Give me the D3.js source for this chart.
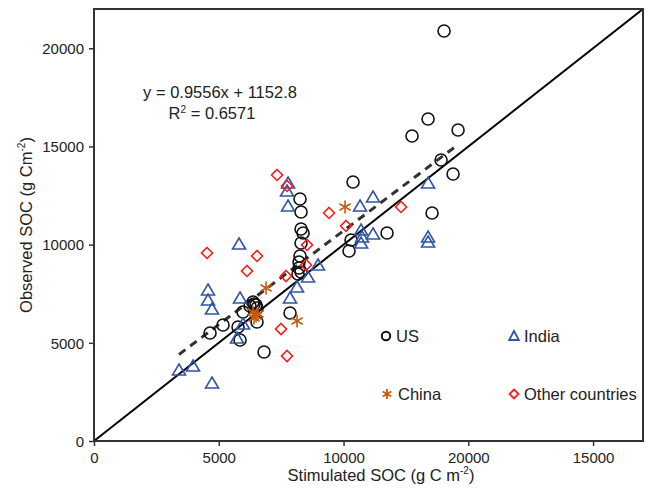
<!DOCTYPE html>
<html>
<head>
<meta charset="utf-8">
<script src="https://cdn.jsdelivr.net/npm/d3@7"></script>
<style>
  html, body { margin: 0; padding: 0; background: #fff; }
  svg { display: block; font-family: "Liberation Sans", Arial, sans-serif; }
</style>
</head>
<body>
<svg id="chart" width="649" height="491"></svg>
<script>
// Simulated vs observed soil organic carbon, by country group: [simulated, observed]
const usPoints = [
  [14028, 20881], [13387, 16399], [12745, 15534], [14589, 15839], [13908, 14311],
  [14389, 13598], [13547, 11612], [11743, 10593], [10381, 13191], [10301, 10237],
  [10220, 9677], [8256, 12325], [8297, 11663], [8297, 10797], [8377, 10593],
  [8297, 10084], [8256, 9422], [8216, 9116], [8216, 8811], [8297, 8607],
  [8176, 8505], [7856, 6519], [6814, 4533], [6373, 7079], [6493, 6926],
  [6252, 6876], [6533, 6774], [5972, 6570], [6533, 6061], [5772, 5806],
  [5852, 5144], [5170, 5908], [4649, 5500], [6413, 6977]
];
const indiaPoints = [
  [7776, 13140], [7735, 12733], [7776, 11969], [5812, 10033], [4569, 7690],
  [4569, 7181], [4729, 6723], [5852, 7283], [5972, 5959], [5731, 5246],
  [3407, 3616], [3968, 3820], [4729, 2954], [7856, 7283], [8136, 7843],
  [8577, 8353], [8978, 8964], [10661, 11969], [11182, 12427], [13387, 13140],
  [13387, 10390], [13387, 10135], [10701, 10746], [10741, 10390], [10701, 10084],
  [11182, 10543]
];
const chinaPoints = [
  [10060, 11918], [6894, 7792], [8136, 6112], [6373, 6570], [6493, 6366],
  [6413, 6264], [6573, 6468]
];
const otherPoints = [
  [7335, 13547], [7735, 12987], [9419, 11612], [10100, 10950], [12305, 11918],
  [4529, 9575], [6533, 9422], [6132, 8658], [8537, 9982], [8497, 8964],
  [7695, 8403], [7495, 5704], [7735, 4329]
];

// Axis ticks and the labels printed under them
const xTickValues = [0, 5000, 10000, 15000, 20000];
const xTickLabels = ["0", "5000", "10000", "20000", "15000"];
const yTickValues = [0, 5000, 10000, 15000, 20000];

// Linear fit reported on the chart
const fitSlope = 0.9556;
const fitIntercept = 1152.8;
const fitText = ["y = 0.9556x + 1152.8", "R", "2", " = 0.6571"];

const svg = d3.select("#chart");
const W = 649, H = 491;
const margin = { left: 94, right: 6, top: 9, bottom: 50 };
const x = d3.scaleLinear().domain([0, 22000]).range([margin.left, W - margin.right]);
const y = d3.scaleLinear().domain([0, 22000]).range([H - margin.bottom, margin.top]);

const frameColor = "#333";
const textColor = "#222";
const font = "Liberation Sans, Arial, sans-serif";

// 1:1 line
svg.append("line")
  .attr("x1", x(0)).attr("y1", y(0))
  .attr("x2", x(22000)).attr("y2", y(22000))
  .attr("stroke", "#000").attr("stroke-width", 2);

// regression line across the simulated range
const allX = [...usPoints, ...indiaPoints, ...chinaPoints, ...otherPoints].map(d => d[0]);
const [xmin, xmax] = d3.extent(allX);
svg.append("line")
  .attr("x1", x(xmin)).attr("y1", y(fitSlope * xmin + fitIntercept))
  .attr("x2", x(xmax)).attr("y2", y(fitSlope * xmax + fitIntercept))
  .attr("stroke", "#333").attr("stroke-width", 3)
  .attr("stroke-dasharray", "8,6");

// marker shapes
const triPath = "M0,-6L6.5,5L-6.5,5Z";
const diaPath = "M0,-5.5L5.5,0L0,5.5L-5.5,0Z";
const starPath = "M0,-6.5L0,6.5M-5.6,-3.25L5.6,3.25M-5.6,3.25L5.6,-3.25";

const marks = svg.append("g");
marks.selectAll("circle.us").data(usPoints).join("circle")
  .attr("class", "us")
  .attr("cx", d => x(d[0])).attr("cy", d => y(d[1])).attr("r", 6)
  .attr("fill", "none").attr("stroke", "#111").attr("stroke-width", 1.6);
marks.selectAll("path.in").data(indiaPoints).join("path")
  .attr("class", "in").attr("d", triPath)
  .attr("transform", d => `translate(${x(d[0])},${y(d[1])})`)
  .attr("fill", "none").attr("stroke", "#2f56a6").attr("stroke-width", 1.6);
marks.selectAll("path.ot").data(otherPoints).join("path")
  .attr("class", "ot").attr("d", diaPath)
  .attr("transform", d => `translate(${x(d[0])},${y(d[1])})`)
  .attr("fill", "none").attr("stroke", "#ff1a1a").attr("stroke-width", 1.6);
marks.selectAll("path.cn").data(chinaPoints).join("path")
  .attr("class", "cn").attr("d", starPath)
  .attr("transform", d => `translate(${x(d[0])},${y(d[1])})`)
  .attr("fill", "none").attr("stroke", "#c55a11").attr("stroke-width", 1.6);

// frame
svg.append("rect")
  .attr("x", x(0)).attr("y", y(22000))
  .attr("width", x(22000) - x(0)).attr("height", y(0) - y(22000))
  .attr("fill", "none").attr("stroke", frameColor).attr("stroke-width", 2);

// axes
const xAxis = d3.axisBottom(x).tickValues(xTickValues)
  .tickFormat((d, i) => xTickLabels[i]).tickSize(5).tickSizeOuter(0).tickPadding(3);
const gx = svg.append("g").attr("transform", `translate(0,${y(0)})`).call(xAxis);
const yAxis = d3.axisLeft(y).tickValues(yTickValues)
  .tickFormat(d => String(d)).tickSize(5).tickSizeOuter(0).tickPadding(5);
const gy = svg.append("g").attr("transform", `translate(${x(0)},0)`).call(yAxis);
[gx, gy].forEach(g => {
  g.select(".domain").remove();
  g.selectAll("line").attr("stroke", frameColor).attr("stroke-width", 1.5);
  g.selectAll("text").attr("fill", textColor).style("font-size", "15px")
    .style("font-family", font);
});
gx.selectAll("text").attr("dy", "0.9em");
gy.selectAll("text").attr("dy", "0.35em");

// axis titles
const xt = svg.append("text").attr("x", 381).attr("y", 481)
  .attr("text-anchor", "middle").attr("fill", textColor).style("font-size", "16.5px");
xt.append("tspan").text("Stimulated SOC (g C m");
xt.append("tspan").text("-2").attr("dy", -7).style("font-size", "10px");
xt.append("tspan").text(")").attr("dy", 7);

const yt = svg.append("text")
  .attr("transform", `translate(32,${(y(0) + y(22000)) / 2}) rotate(-90)`)
  .attr("text-anchor", "middle").attr("fill", textColor).style("font-size", "16.5px");
yt.append("tspan").text("Observed SOC (g Cm");
yt.append("tspan").text("-2").attr("dy", -7).style("font-size", "10px");
yt.append("tspan").text(")").attr("dy", 7);

// fit equation
svg.append("text").attr("x", 220).attr("y", 98).attr("text-anchor", "middle")
  .attr("fill", textColor).style("font-size", "16.5px").text(fitText[0]);
const r2 = svg.append("text").attr("x", 212).attr("y", 119).attr("text-anchor", "middle")
  .attr("fill", textColor).style("font-size", "16.5px");
r2.append("tspan").text(fitText[1]);
r2.append("tspan").text(fitText[2]).attr("dy", -6).style("font-size", "10px");
r2.append("tspan").text(fitText[3]).attr("dy", 6);

// legend
const legendItems = [
  { label: "US", px: 386, py: 336, kind: "us" },
  { label: "India", px: 514, py: 336, kind: "in" },
  { label: "China", px: 387, py: 394, kind: "cn" },
  { label: "Other countries", px: 514, py: 394, kind: "ot" }
];
const lg = svg.append("g");
legendItems.forEach(it => {
  const g = lg.append("g").attr("transform", `translate(${it.px},${it.py})`);
  if (it.kind === "us") {
    g.append("circle").attr("r", 4.2).attr("fill", "none").attr("stroke", "#111").attr("stroke-width", 2);
  } else if (it.kind === "in") {
    g.append("path").attr("d", "M0,-5L4.8,4L-4.8,4Z").attr("fill", "none").attr("stroke", "#2f56a6").attr("stroke-width", 1.8);
  } else if (it.kind === "cn") {
    g.append("path").attr("d", "M0,-5L0,5M-4.3,-2.5L4.3,2.5M-4.3,2.5L4.3,-2.5").attr("fill", "none").attr("stroke", "#c55a11").attr("stroke-width", 1.8);
  } else {
    g.append("path").attr("d", "M0,-4.5L4.5,0L0,4.5L-4.5,0Z").attr("fill", "none").attr("stroke", "#ff1a1a").attr("stroke-width", 1.8);
  }
  g.append("text").attr("x", it.kind === "cn" ? 11 : 10).attr("y", 6).attr("fill", textColor)
    .style("font-size", "16.5px").text(it.label);
});
</script>
</body>
</html>
